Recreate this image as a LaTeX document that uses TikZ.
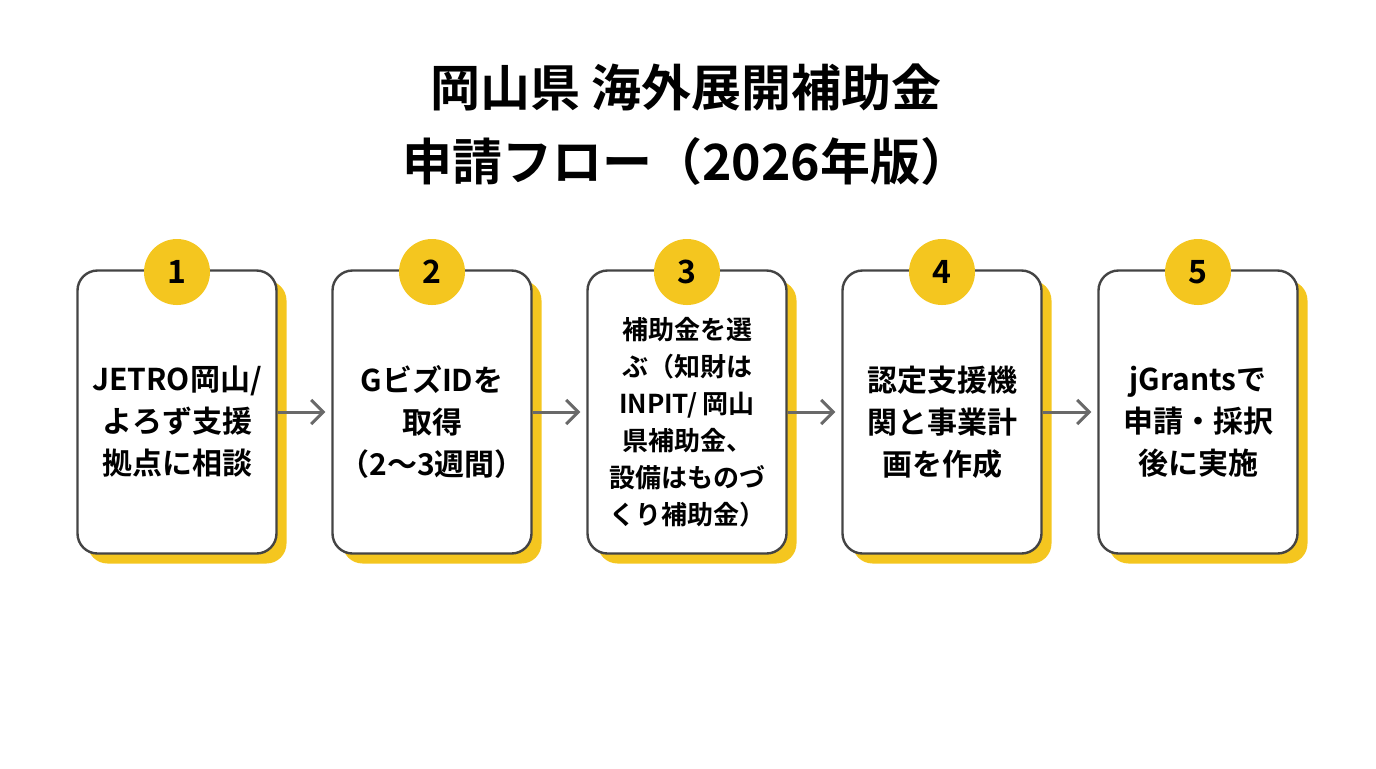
\documentclass[tikz,border=0pt]{standalone}
\usepackage{fontspec}
\setmainfont{Noto Sans CJK JP}[BoldFont={Noto Sans CJK JP Bold}]
\usetikzlibrary{arrows.meta,positioning}
\definecolor{accent}{HTML}{F4C61F}
\definecolor{edge}{HTML}{444444}
\begin{document}
\begin{tikzpicture}[
		x=0.5pt, y=-0.5pt,
		card/.style={draw=edge, line width=1.2pt, rounded corners=10pt, fill=white, minimum width=99.5pt, minimum height=141.5pt, inner sep=0pt},
		shade/.style={fill=accent, rounded corners=10pt, minimum width=99.5pt, minimum height=141.5pt, inner sep=0pt},
		badge/.style={circle, fill=accent, minimum size=33pt, inner sep=0pt, font=\bfseries\fontsize{16}{16}\selectfont},
		label/.style={align=center, font=\bfseries\fontsize{15}{21}\selectfont},
		small/.style={align=center, font=\bfseries\fontsize{13}{18.5}\selectfont},
		flow/.style={-{Straight Barb[length=6pt,width=12pt]}, draw=edge!80, line width=1.5pt},
	]
		\useasboundingbox (0,0) rectangle (1376,768);

		\node (title) at (686,125) [align=center, font=\bfseries\fontsize{25}{37}\selectfont] {岡山県 海外展開補助金\\申請フロー（2026年版）};

		\foreach \i/\x/\st/\txt in {1/177/label/{JETRO岡山/\\よろず支援\\拠点に相談},
				2/432/label/{GビズIDを\\取得\\（2〜3週間）},
				3/687/small/{補助金を選\\ぶ（知財は\\INPIT/ 岡山\\県補助金、\\設備はものづ\\くり補助金）},
				4/942/label/{認定支援機\\関と事業計\\画を作成},
				5/1198/label/{jGrantsで\\申請・採択\\後に実施}} {
			\node (sh\i) at (\x+10,422) [shade] {};
			\node (card\i) at (\x,412) [card] {};
			\node (txt\i) at (card\i) [\st, yshift=-5pt] {\txt};
			\node (num\i) at (\x,272) [badge] {\i};
		}

		\foreach \a/\b in {1/2,2/3,3/4,4/5}
			\draw[flow] (card\a.east) -- ([xshift=-3pt]card\b.west);
	\end{tikzpicture}
\end{document}
